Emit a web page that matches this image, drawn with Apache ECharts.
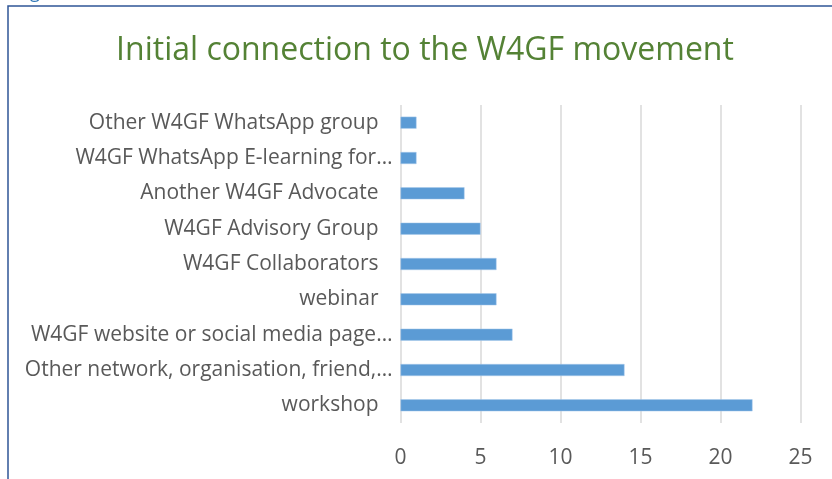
<!DOCTYPE html>
<html><head><meta charset="utf-8">
<script src="https://cdn.jsdelivr.net/npm/echarts@6/dist/echarts.min.js"></script>
<style>html,body{margin:0;padding:0;background:#fff;}#c{width:832px;height:479px;}</style>
</head><body><div id="c"></div>
<script>
const titleText = "Initial connection to the W4GF movement";
const categories = [
  "Other W4GF WhatsApp group",
  "W4GF WhatsApp E-learning for…",
  "Another W4GF Advocate",
  "W4GF Advisory Group",
  "W4GF Collaborators",
  "webinar",
  "W4GF website or social media page…",
  "Other network, organisation, friend,…",
  "workshop"
];
const values = [1, 1, 4, 5, 6, 6, 7, 14, 22];
const xTicks = [0, 5, 10, 15, 20, 25];

const FONT = "'Open Sans', sans-serif";
const chart = echarts.init(document.getElementById('c'), null, {renderer: 'canvas'});
chart.setOption({
  animation: false,
  backgroundColor: '#fff',
  title: {
    text: titleText, left: 420, textAlign: 'center', top: 30,
    textStyle: {fontFamily: FONT, fontSize: 32, fontWeight: 'normal', color: '#548235'}
  },
  grid: {left: 400.5, top: 105, width: 400, height: 318},
  xAxis: {
    type: 'value', min: xTicks[0], max: xTicks[xTicks.length - 1], interval: 5,
    axisLine: {show: false}, axisTick: {show: false},
    splitLine: {lineStyle: {color: '#D9D9D9', width: 1.5}},
    axisLabel: {margin: 25, fontFamily: FONT, fontSize: 21, color: '#595959'}
  },
  yAxis: {
    type: 'category', data: categories, inverse: true,
    axisLine: {show: false}, axisTick: {show: false},
    axisLabel: {
      margin: 8, fontFamily: FONT, fontSize: 21, color: '#595959',
      formatter: v => v.endsWith('…') ? '{b|' + v + '}' : '{a|' + v + '}',
      rich: {
        a: {fontFamily: FONT, fontSize: 21, color: '#595959', padding: [0, 14, 0, 0]},
        b: {fontFamily: FONT, fontSize: 21, color: '#595959'}
      }
    }
  },
  series: [{
    type: 'bar', data: values, barWidth: 12,
    itemStyle: {color: '#5B9BD5', borderColor: '#A9C9EA', borderWidth: 0.5}
  }],
  graphic: [
    {type: 'polyline', shape: {points: [[8, 479], [8, 6], [832, 6]]},
     style: {stroke: '#2F5597', lineWidth: 1.5, fill: null}},
    {type: 'text', left: 30, top: -16,
     style: {text: 'g', fontFamily: FONT, fontSize: 18, fill: '#2E75B6'}}
  ]
});
</script></body></html>
